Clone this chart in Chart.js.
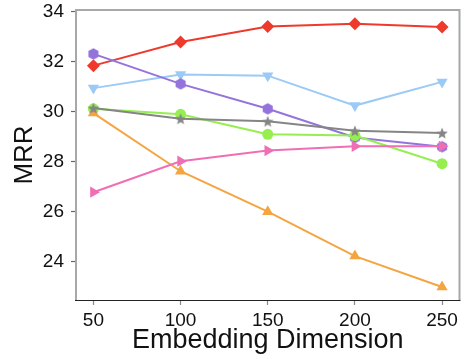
<!DOCTYPE html>
<html>
<head>
<meta charset="utf-8">
<script src="https://cdn.jsdelivr.net/npm/chart.js@4.4.1/dist/chart.umd.min.js"></script>
<style>
html,body{margin:0;padding:0;background:#fff;}
#wrap{width:466px;height:359px;position:relative;}
</style>
</head>
<body>
<div id="wrap"><canvas id="c" width="466" height="359"></canvas></div>
<script>
// ---- data ----
const dims = [50, 100, 150, 200, 250];
const redSeries = [31.85, 32.8, 33.42, 33.53, 33.4];
const lightBlueSeries = [30.95, 31.5, 31.45, 30.25, 31.2];
const purpleSeries = [32.32, 31.12, 30.12, 28.97, 28.6];
const graySeries = [30.15, 29.72, 29.62, 29.24, 29.15];
const greenSeries = [30.12, 29.9, 29.1, 29.05, 27.92];
const orangeSeries = [29.95, 27.62, 26.0, 24.22, 22.98];
const pinkSeries = [26.78, 28.02, 28.45, 28.62, 28.62];
const xTicks = [50, 100, 150, 200, 250];
const yTicks = [24, 26, 28, 30, 32, 34];
const xLabel = 'Embedding Dimension';
const yLabel = 'MRR';

const FONT = "'Liberation Sans', Arial, Helvetica, sans-serif";

function markerCanvas(color, kind) {
  const s = 14, c = document.createElement('canvas');
  c.width = s; c.height = s;
  const g = c.getContext('2d');
  g.fillStyle = color;
  g.beginPath();
  const cx = s / 2, cy = s / 2;
  if (kind === 'hex') {
    const r = 5.8;
    for (let i = 0; i < 6; i++) {
      const a = Math.PI / 2 + i * Math.PI / 3;
      const px = cx + r * Math.cos(a), py = cy - r * Math.sin(a);
      i ? g.lineTo(px, py) : g.moveTo(px, py);
    }
  } else if (kind === 'star') {
    const R = 6, r = 2.6;
    for (let i = 0; i < 10; i++) {
      const a = Math.PI / 2 + i * Math.PI / 5;
      const rr = i % 2 ? r : R;
      const px = cx + rr * Math.cos(a), py = cy + 0.6 - rr * Math.sin(a);
      i ? g.lineTo(px, py) : g.moveTo(px, py);
    }
  }
  g.closePath();
  g.fill();
  return c;
}

function ds(values, color, style, radius, rotation) {
  return {
    data: dims.map((x, i) => ({ x: x, y: values[i] })),
    borderColor: color,
    backgroundColor: color,
    pointBackgroundColor: color,
    pointBorderColor: color,
    borderWidth: 2,
    pointStyle: style,
    pointRadius: radius,
    pointBorderWidth: 0,
    pointRotation: rotation || 0,
    pointHoverRadius: radius,
    tension: 0,
    fill: false
  };
}

const datasets = [
  ds(graySeries, '#858585', markerCanvas('#858585', 'star'), 6),
  ds(pinkSeries, '#f06eb4', 'triangle', 6.5, 90),
  ds(orangeSeries, '#f5a540', 'triangle', 6.5, 0),
  ds(greenSeries, '#96ee50', 'circle', 5.5),
  ds(purpleSeries, '#9474dc', markerCanvas('#9474dc', 'hex'), 6),
  ds(lightBlueSeries, '#9ccaf6', 'triangle', 6.5, 180),
  ds(redSeries, '#ee3a2c', 'rectRot', 6.5)
];

const frame = {
  id: 'frame',
  afterDraw(chart) {
    const a = chart.chartArea, g = chart.ctx;
    g.save();
    g.strokeStyle = '#a8a8a8';
    g.lineWidth = 2;
    g.beginPath();
    g.moveTo(a.left, a.bottom); g.lineTo(a.left, a.top);
    g.lineTo(a.right, a.top); g.lineTo(a.right, a.bottom);
    g.stroke();
    g.strokeStyle = '#222';
    g.lineWidth = 1;
    g.beginPath();
    g.moveTo(a.left - 1, a.bottom + 0.5); g.lineTo(a.right + 1, a.bottom + 0.5);
    g.stroke();
    g.restore();
  }
};

function noPad(s) { s.paddingTop = 0; s.paddingBottom = 0; s.paddingLeft = 0; s.paddingRight = 0; }

new Chart(document.getElementById('c'), {
  type: 'line',
  data: { datasets: datasets },
  options: {
    responsive: false,
    animation: false,
    events: [],
    layout: { padding: { top: 10, right: 2, left: 0, bottom: 0 } },
    plugins: { legend: { display: false }, tooltip: { enabled: false } },
    scales: {
      x: {
        type: 'linear',
        min: 40, max: 260,
        afterBuildTicks(s) { s.ticks = xTicks.map(v => ({ value: v })); },
        afterFit(s) { s.height = 59; noPad(s); },
        grid: { drawOnChartArea: false, tickLength: 5, color: '#888', tickWidth: 1.2 },
        border: { display: false },
        ticks: { color: '#111', font: { family: FONT, size: 19 }, padding: 4, maxRotation: 0 },
        title: { display: true, text: xLabel, color: '#111', font: { family: FONT, size: 27 }, padding: { top: 0, bottom: 2 } }
      },
      y: {
        min: 22.46, max: 34.08,
        afterBuildTicks(s) { s.ticks = yTicks.map(v => ({ value: v })); },
        afterFit(s) { s.width = 76; noPad(s); },
        grid: { drawOnChartArea: false, tickLength: 5, color: '#666', tickWidth: 1.2 },
        border: { display: false },
        ticks: { color: '#111', font: { family: FONT, size: 19 }, padding: 7 },
        title: { display: true, text: yLabel, color: '#111', font: { family: FONT, size: 26 }, padding: { top: 9, bottom: 0 } }
      }
    }
  },
  plugins: [frame]
});
</script>
</body>
</html>
